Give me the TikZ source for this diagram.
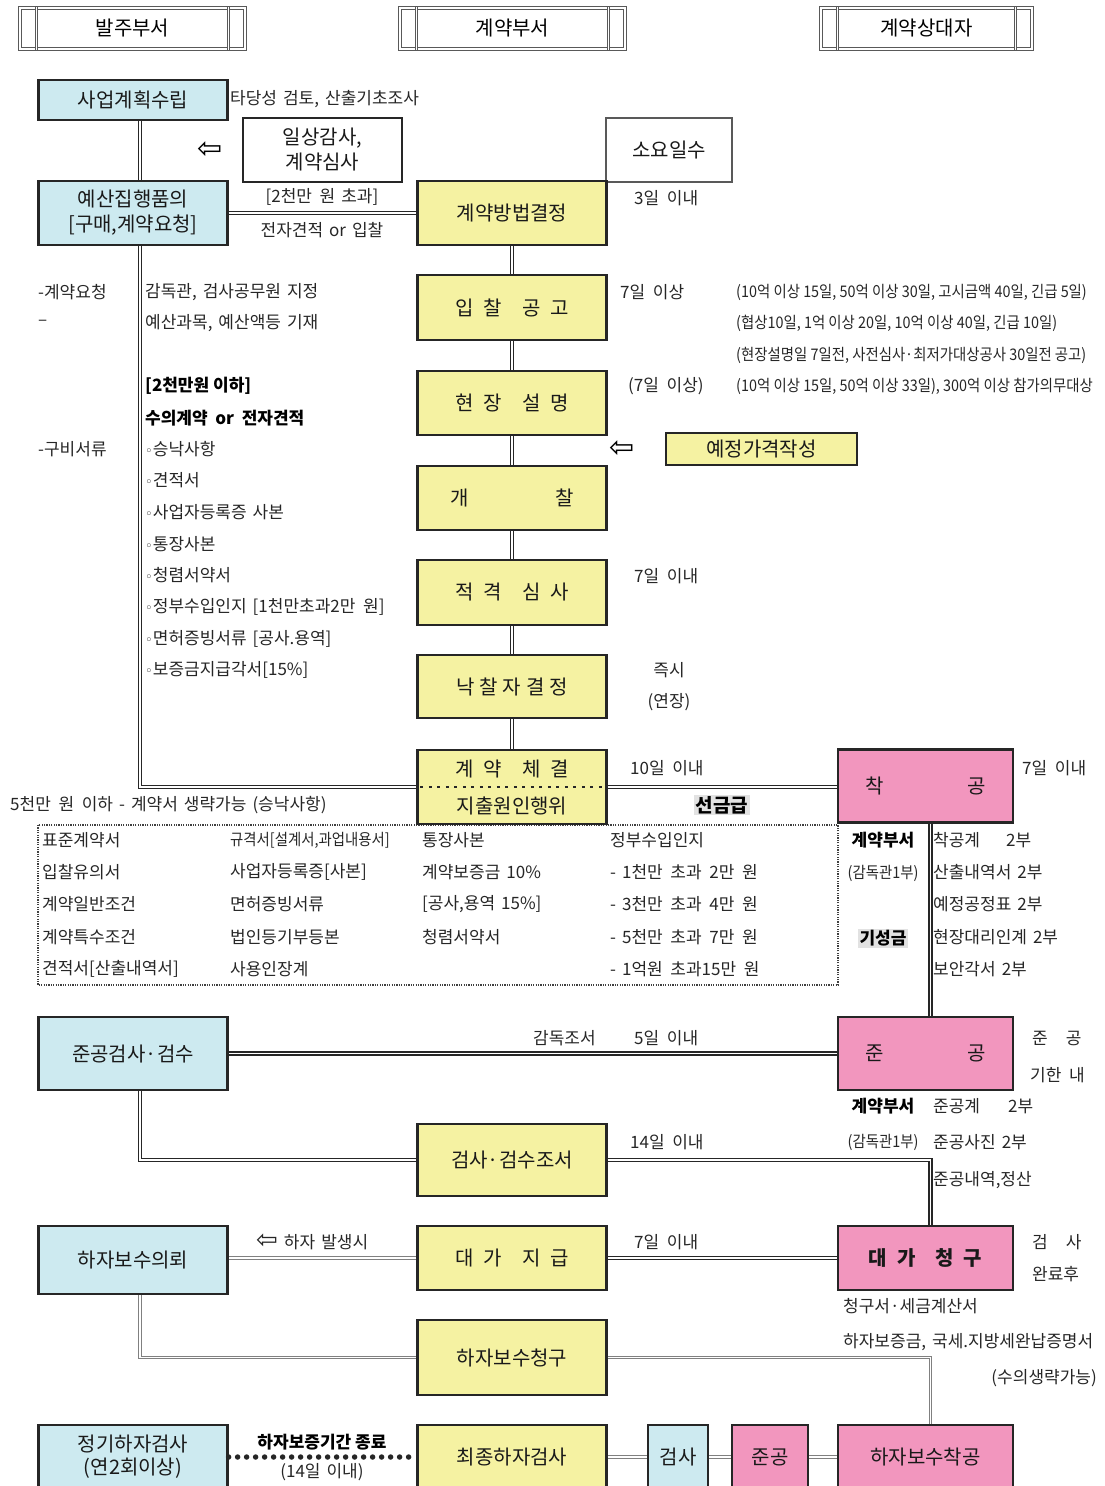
\documentclass[tikz,border=0pt]{standalone}
\usepackage{fontspec}
\setmainfont{Noto Sans CJK KR}
\newfontfamily\krlong[FakeStretch=0.9]{Noto Sans CJK KR}
\newfontfamily\symfont{DejaVu Sans}

\definecolor{boxblue}{HTML}{CDEAF0}
\definecolor{boxyellow}{HTML}{F5F2A2}
\definecolor{boxpink}{HTML}{F296BE}
\definecolor{hilitegray}{HTML}{E2E2E2}

\newcommand{\boxfont}{\fontsize{20}{25}\selectfont}
\newcommand{\notefont}{\fontsize{17}{20}\selectfont\fontdimen2\font=6pt}
\newcommand{\longfont}{\krlong\fontsize{16}{19}\selectfont}
\newcommand{\bnotefont}{\bfseries\fontsize{17}{20}\selectfont}
\newcommand{\gp}{\hspace{0.5em}}
\newcommand{\gpp}{\hspace{1em}}
\newcommand{\ws}{\hspace{0.45em}}
\newcommand{\bul}{{\symfont\fontsize{13}{13}\selectfont ◦}}

\tikzset{
  box/.style={draw=black!85, line width=2.2pt, minimum width=189pt, minimum height=64pt,
    inner sep=2pt, align=center, text=black!90, font=\boxfont},
  bluebox/.style={box, fill=boxblue},
  yellowbox/.style={box, fill=boxyellow},
  pinkbox/.style={box, fill=boxpink, minimum width=175pt},
  whitebox/.style={box, fill=white},
  hdr/.style={draw=black!65, line width=1.1pt, double=white, double distance=1.3pt,
    minimum height=41pt, font=\boxfont},
  hdrbar/.style={draw=black!65, line width=1pt, double=white, double distance=1.5pt},
  dline/.style={draw=black!85, line width=1.9pt, double=white, double distance=1.1pt},
  tline/.style={draw=black!50, line width=0.9pt, double=white, double distance=1.6pt},
  dotline/.style={draw=black!85, line width=5.5pt, line cap=round, dash pattern=on 0pt off 9pt},
  docbox/.style={draw=black!75, line width=1.2pt, dash pattern=on 1.2pt off 1.2pt},
  note/.style={font=\notefont, text=black!85, inner sep=0pt, anchor=west},
  notec/.style={note, anchor=center},
  longnote/.style={note, font=\longfont},
  bnote/.style={font=\bnotefont, inner sep=0pt, anchor=west},
  bnotec/.style={bnote, anchor=center},
  hilite/.style={bnotec, fill=hilitegray, inner sep=1.5pt},
  sym/.style={font=\symfont\fontsize{30}{30}\selectfont, inner sep=0pt},
}

\begin{document}
\begin{tikzpicture}[x=1pt, y=-1pt]
  \useasboundingbox (0,0) rectangle (1105,1486);

  % headers
  \node[hdr, minimum width=225pt] (hdrorder) at (132.5,28.5) {발주부서};
  \node[hdr, minimum width=225pt] (hdrcontract) at (512.5,28.5) {계약부서};
  \node[hdr, minimum width=211pt] (hdrvendor) at (926.5,28.5) {계약상대자};
  \foreach \h in {hdrorder, hdrcontract, hdrvendor} {
    \draw[hdrbar] ([xshift=17pt]\h.north west) -- ([xshift=17pt]\h.south west);
    \draw[hdrbar] ([xshift=-17pt]\h.north east) -- ([xshift=-17pt]\h.south east);
  }

  % document list
  \draw[docbox] (38,825) rectangle (838,985);

  % left column
  \node[bluebox, minimum height=40pt] (plan) at (133,100) {사업계획수립};
  \node[bluebox] (budget) at (133,213) {예산집행품의\\{}[구매,계약요청]};
  \node[bluebox, minimum height=73pt] (compinsp) at (133,1053.5) {준공검사·검수};
  \node[bluebox, minimum height=68pt] (defreq) at (133,1260) {하자보수의뢰};
  \node[bluebox, font=\fontsize{20}{23}\selectfont] (periodic) at (133,1457) {정기하자검사\\(연2회이상)};

  \node[whitebox, minimum width=159pt] (audit) at (322.5,150) {일상감사,\\계약심사};
  \node[whitebox, draw=black!65, line width=2pt, minimum width=126pt] (days) at (669,150) {소요일수};

  % middle column
  \node[yellowbox] (method) at (512,213) {계약방법결정};
  \node[yellowbox, minimum height=65pt] (notice) at (512,307.5) {입\gp 찰\gpp 공\gp 고};
  \node[yellowbox] (brief) at (512,403) {현\gp 장\gpp 설\gp 명};
  \node[yellowbox] (open) at (512,498) {개\hspace{86pt}찰};
  \node[yellowbox, minimum height=32pt, minimum width=191pt] (estimate) at (761.5,449) {예정가격작성};
  \node[yellowbox, minimum height=65pt] (review) at (512,592.5) {적\gp 격\gpp 심\gp 사};
  \node[yellowbox, minimum height=63pt] (award) at (512,686.5) {낙\hspace{5pt}찰\hspace{5pt}자\hspace{5pt}결\hspace{5pt}정};
  \node[yellowbox, minimum height=74pt, font=\fontsize{20}{37}\selectfont] (contract) at (512,787)
    {계\gp 약\gpp 체\gp 결\\지출원인행위};
  \node[yellowbox, minimum height=72pt] (inspdoc) at (512,1160) {검사·검수조서};
  \node[yellowbox] (pay) at (512,1258) {대\gp 가\gpp 지\gp 급};
  \node[yellowbox, minimum height=75pt] (defclaim) at (512,1357.5) {하자보수청구};
  \node[yellowbox] (final) at (512,1457) {최종하자검사};

  % right column
  \node[pinkbox, minimum height=73pt] (start) at (925.5,786) {착\hspace{84pt}공};
  \node[pinkbox, minimum height=73pt] (done) at (925.5,1053.5) {준\hspace{84pt}공};
  \node[pinkbox, font=\bfseries\boxfont] (bill) at (925.5,1258) {대\gp 가\gpp 청\gp 구};
  \node[pinkbox] (defstart) at (925.5,1457) {하자보수착공};
  \node[bluebox, minimum width=60pt] (insp) at (678,1457) {검사};
  \node[pinkbox, minimum width=76pt] (comp) at (770,1457) {준공};

  % connectors
  \draw[dline] ([xshift=7pt]plan.south) -- ([xshift=7pt]budget.north);
  \draw[dline] ([xshift=7pt]budget.south) |- (contract.west);
  \draw[dline] (budget.east) -- (method.west);
  \foreach \a/\b in {method/notice, notice/brief, brief/open, open/review, review/award, award/contract}
    \draw[dline] (\a.south) -- (\b.north);
  \draw[dline] (contract.east) -- (start.west |- contract.east);
  \draw[dline] ([xshift=5pt]start.south) -- ([xshift=5pt]done.north);
  \draw[dline] (done.west) -- (compinsp.east);
  \draw[dline] ([xshift=7pt]compinsp.south) |- (inspdoc.west);
  \draw[dline] (inspdoc.east) -| ([xshift=5pt]bill.north);
  \draw[dline] (bill.west) -- (pay.east);
  \draw[tline] (pay.west) -- (defreq.east |- pay.west);
  \draw[tline] ([xshift=7pt]defreq.south) |- (defclaim.west);
  \draw[tline] (defclaim.east) -| ([xshift=5pt]defstart.north);
  \draw[dotline] (periodic.east) -- (final.west);
  \draw[tline] (final.east) -- (insp.west);
  \draw[tline] (insp.east) -- (comp.west);
  \draw[tline] (comp.east) -- (defstart.west);
  \draw[line width=2pt, black!85, dash pattern=on 3pt off 5.5pt]
    ([xshift=4pt]contract.west) -- ([xshift=-2pt]contract.east);

  % notes, top
  \node[note] (n-plan) at (230,99) {타당성 검토, 산출기초조사};
  \node[sym] (arr-audit) at (210,150) {⇦};
  \node[notec] (n-over) at (322,197) {[2천만\ws 원 초과]};
  \node[notec] (n-bid) at (322,230) {전자견적 or 입찰};
  \node[note] (n-3d) at (634,198) {3일\ws 이내};

  % notes, left
  \node[note] (n-req) at (38,292) {-계약요청};
  \node[note] (n-dash) at (38,323) {–};
  \node[note] (n-sup) at (145,292) {감독관, 검사공무원 지정};
  \node[note] (n-acct) at (145,323) {예산과목, 예산액등 기재};
  \node[bnote] (n-under) at (145,386) {[2천만원 이하]};
  \node[bnote] (n-neg) at (145,418) {수의계약\ws or\ws 전자견적};
  \node[note] (n-docs) at (38,449) {-구비서류};
  \foreach \t [count=\i from 0] in {승낙사항, 견적서, 사업자등록증 사본, 통장사본, 청렴서약서,
      정부수입인지 [1천만초과2만\ws 원], 면허증빙서류 [공사.용역], 보증금지급각서[15\%]}
    \node[note] (doc\i) at (145,{449+31.57*\i}) {\bul\t};

  % notes, right
  \node[note] (n-7a) at (620,292) {7일\ws 이상};
  \node[longnote] (n-la) at (736,292) {(10억 이상 15일, 50억 이상 30일, 고시금액 40일, 긴급 5일)};
  \node[longnote] (n-lb) at (736,323) {(협상10일, 1억 이상 20일, 10억 이상 40일, 긴급 10일)};
  \node[longnote] (n-lc) at (736,355) {(현장설명일 7일전, 사전심사·최저가대상공사 30일전 공고)};
  \node[note] (n-7b) at (628,386) {(7일\ws 이상)};
  \node[longnote] (n-ld) at (736,386) {(10억 이상 15일, 50억 이상 33일), 300억 이상 참가의무대상};
  \node[sym] (arr-est) at (622,449) {⇦};
  \node[note] (n-7c) at (634,576) {7일\ws 이내};
  \node[notec] (n-now) at (669,670) {즉시};
  \node[notec] (n-ext) at (669,702) {(연장)};
  \node[note] (n-10) at (630,768) {10일\ws 이내};
  \node[hilite, font=\bfseries\fontsize{19}{20}\selectfont] (n-adv) at (722,805) {선금급};
  \node[note] (n-7d) at (1022,768) {7일\ws 이내};
  \node[note] (n-omit) at (10,805) {5천만\ws 원\ws 이하 - 계약서 생략가능 (승낙사항)};

  % document list entries
  \foreach \t [count=\i from 0] in {표준계약서, 입찰유의서, 계약일반조건, 계약특수조건, 견적서[산출내역서]}
    \node[note] (da\i) at (42,{840+32.25*\i}) {\t};
  \node[longnote] (db0) at (230,840) {규격서[설계서,과업내용서]};
  \foreach \t [count=\i from 1] in {사업자등록증[사본], 면허증빙서류, 법인등기부등본, 사용인장계}
    \node[note] (db\i) at (230,{840+32.25*\i}) {\t};
  \foreach \t [count=\i from 0] in {통장사본, 계약보증금 10\%, {[공사,용역 15\%]}, 청렴서약서}
    \node[note] (dc\i) at (422,{840+32.25*\i}) {\t};
  \foreach \t [count=\i from 0] in {정부수입인지, - 1천만\ws 초과\ws 2만\ws 원, - 3천만\ws 초과\ws 4만\ws 원,
      - 5천만\ws 초과\ws 7만\ws 원, - 1억원\ws 초과15만\ws 원}
    \node[note] (dd\i) at (610,{840+32.25*\i}) {\t};

  % start documents
  \node[bnotec] (n-dept1) at (883,840) {계약부서};
  \node[longnote, anchor=center] (n-sup1) at (883,873) {(감독관1부)};
  \node[hilite] (n-prog) at (883,938) {기성금};
  \foreach \t [count=\i from 0] in {착공계\hspace{26pt}2부, 산출내역서 2부, 예정공정표 2부, 현장대리인계 2부, 보안각서 2부}
    \node[note] (ds\i) at (933,{840+32.25*\i}) {\t};

  % notes, bottom
  \node[note] (n-insp) at (533,1038) {감독조서};
  \node[note] (n-5) at (634,1038) {5일\ws 이내};
  \node[note] (n-due1) at (1032,1038) {준\hspace{18pt}공};
  \node[note] (n-due2) at (1030,1075) {기한\ws 내};
  \node[bnotec] (n-dept2) at (883,1106) {계약부서};
  \node[note] (n-cd1) at (933,1106) {준공계\hspace{28pt}2부};
  \node[longnote, anchor=center] (n-sup2) at (883,1142) {(감독관1부)};
  \node[note] (n-cd2) at (933,1142) {준공사진 2부};
  \node[note] (n-cd3) at (933,1180) {준공내역,정산};
  \node[note] (n-14) at (630,1142) {14일\ws 이내};
  \node[note] (n-defect) at (256,1242) {{\symfont\fontsize{26}{26}\selectfont ⇦} 하자 발생시};
  \node[note] (n-7e) at (634,1242) {7일\ws 이내};
  \node[note] (n-after1) at (1032,1242) {검\hspace{18pt}사};
  \node[note] (n-after2) at (1032,1274) {완료후};
  \node[note] (n-bill1) at (843,1306) {청구서·세금계산서};
  \node[note] (n-bill2) at (843,1342) {하자보증금, 국세.지방세완납증명서};
  \node[note, anchor=east] (n-bill3) at (1097,1378) {(수의생략가능)};
  \node[bnotec] (n-end) at (322,1442) {하자보증기간 종료};
  \node[notec] (n-14b) at (322,1472) {(14일 이내)};
\end{tikzpicture}
\end{document}
